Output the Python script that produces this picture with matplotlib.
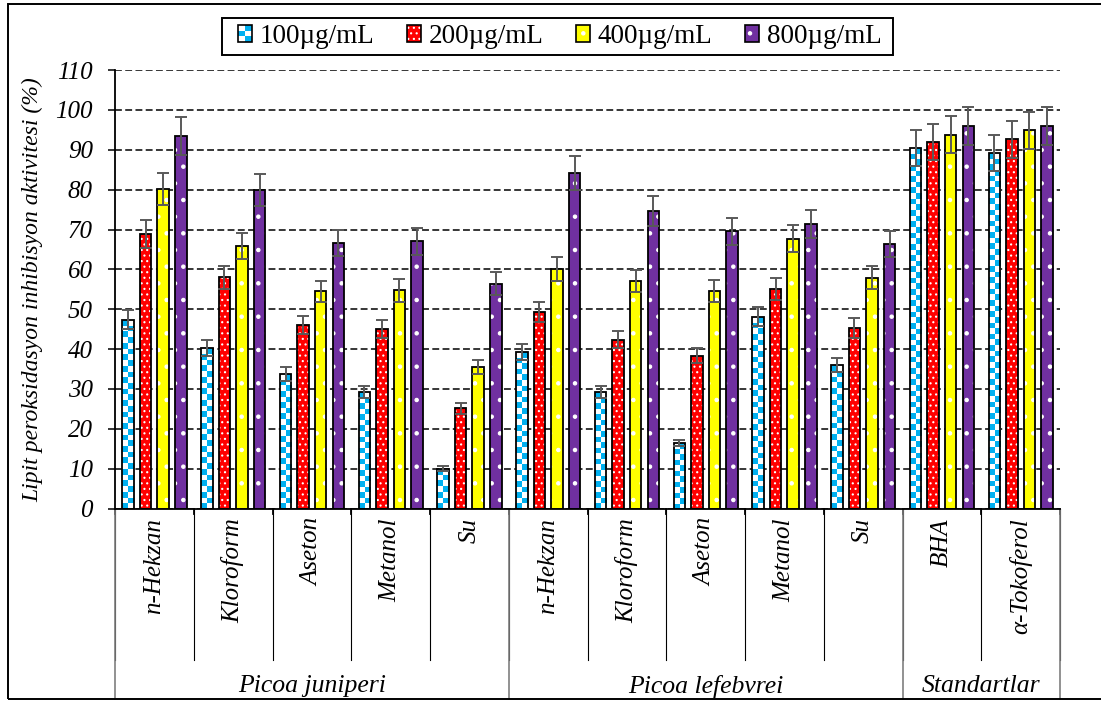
import numpy as np
import matplotlib
matplotlib.use("Agg")
import matplotlib.pyplot as plt
import matplotlib.transforms as mtransforms
from matplotlib.patches import Rectangle, Patch

plt.rcParams['font.family'] = ['Liberation Serif', 'DejaVu Serif']
plt.rcParams['hatch.linewidth'] = 0.8

# Ekstrakt / çözücü kategorileri
categories = ['n-Hekzan', 'Kloroform', 'Aseton', 'Metanol', 'Su',
              'n-Hekzan', 'Kloroform', 'Aseton', 'Metanol', 'Su',
              'BHA', 'α-Tokoferol']
groups = ['Picoa juniperi', 'Picoa lefebvrei', 'Standartlar']
group_sizes = [5, 5, 2]

series_names = ['100µg/mL', '200µg/mL', '400µg/mL', '800µg/mL']

c100 = [47.4, 40.2, 33.7, 29.2, 10.0, 39.2, 29.2, 16.5, 48.1, 36.0, 90.4, 89.3]
e100 = [2.4, 2.0, 1.7, 1.5, 0.6, 2.0, 1.5, 0.8, 2.4, 1.8, 4.5, 4.5]
c200 = [68.9, 58.0, 46.0, 45.0, 25.1, 49.3, 42.4, 38.3, 55.1, 45.3, 92.0, 92.6]
e200 = [3.6, 2.9, 2.3, 2.3, 1.4, 2.5, 2.1, 1.9, 2.8, 2.4, 4.5, 4.6]
c400 = [80.1, 65.9, 54.5, 54.7, 35.5, 60.2, 57.0, 54.5, 67.7, 57.9, 93.8, 94.9]
e400 = [4.0, 3.3, 2.7, 2.8, 1.8, 3.0, 2.8, 2.8, 3.4, 2.9, 4.7, 4.7]
c800 = [93.4, 79.9, 66.6, 67.0, 56.4, 84.2, 74.6, 69.5, 71.3, 66.3, 96.0, 96.0]
e800 = [4.7, 3.9, 3.2, 3.4, 2.9, 4.3, 3.7, 3.4, 3.5, 3.3, 4.8, 4.8]

values = [c100, c200, c400, c800]
errors = [e100, e200, e400, e800]
colors = ['#00B0F0', '#FF0000', '#FFFF00', '#7030A0']
hatches = [None, '...', '.', '.']

FS = 18

fig = plt.figure(figsize=(11.01, 7.02), dpi=100)
ax = fig.add_axes([0.1045, 0.2756, 0.8583, 0.6246])

n = len(categories)
x = np.arange(n) + 0.5
slot = 0.223
width = 0.146
blue = np.array(matplotlib.colors.to_rgb(colors[0]))
white = np.ones(3)

for k in range(4):
    pos = x + (k - 1.5) * slot
    if k == 0:
        bars = ax.bar(pos, values[k], width, color='white', linewidth=0, zorder=2)
        # dama deseni
        for rect in bars:
            h = rect.get_height()
            rows = max(1, int(round(h / 1.42)))
            img = np.zeros((rows, 2, 3))
            for r in range(rows):
                for c in range(2):
                    img[r, c] = blue if (r + c) % 2 == 0 else white
            im = ax.imshow(img, extent=(rect.get_x(), rect.get_x() + rect.get_width(), 0, h),
                           origin='lower', interpolation='nearest', aspect='auto', zorder=2.1)
            im.set_clip_path(rect)
    else:
        ax.bar(pos, values[k], width, color=colors[k], edgecolor='white',
               linewidth=0, hatch=hatches[k], zorder=2)
    ax.bar(pos, values[k], width, fill=False, edgecolor='black', linewidth=1.3, zorder=2.5)
    ax.errorbar(pos, values[k], yerr=errors[k], fmt='none', ecolor='#595959',
                elinewidth=1.4, capsize=4.3, capthick=1.4, zorder=3)

ax.set_xlim(0, n)
ax.set_ylim(0, 110)
ax.set_yticks(np.arange(0, 111, 10))
ax.yaxis.grid(True, color='black', linestyle=(0, (4.5, 2.2)), linewidth=1.1, zorder=0)
ax.set_axisbelow(True)
for lbl in ax.get_yticklabels():
    lbl.set_fontstyle('italic')
ax.tick_params(axis='y', labelsize=FS, length=5, width=1.1, pad=11)
ax.set_xticks([])
ax.spines['top'].set_visible(False)
ax.spines['right'].set_visible(False)
ax.spines['left'].set_linewidth(1.3)
ax.spines['bottom'].set_linewidth(1.3)

ax.set_ylabel('Lipit peroksidasyon inhibisyon aktivitesi (%)', fontsize=17, fontstyle='italic')
ax.yaxis.label.set_va('center')
ax.yaxis.set_label_coords(-0.087, 0.5)

# alt kategori ekseni
trans = mtransforms.blended_transform_factory(ax.transData, ax.transAxes)
for b in range(n + 1):
    ax.plot([b, b], [0, -0.3455], color='black', lw=0.8, transform=trans, clip_on=False)
    ax.plot([b, b], [0, -0.012], color='black', lw=1.3, transform=trans, clip_on=False)
for i, name in enumerate(categories):
    ax.text(i + 0.5, -0.022, name, transform=trans, rotation=90, ha='center', va='top',
            fontsize=FS, fontstyle='italic')

start = 0
bounds = [0]
for g, size in zip(groups, group_sizes):
    ax.text(start + size / 2, -0.405, g, transform=trans, ha='center', va='center',
            fontsize=18.5, fontstyle='italic')
    start += size
    bounds.append(start)
for b in bounds:
    ax.plot([b, b], [0, -0.4344], color='#7f7f7f', lw=1.2, transform=trans, clip_on=False)


class SwatchHandler:
    def __init__(self, color, hatch=None, checker=False):
        self.color = color
        self.hatch = hatch
        self.checker = checker

    def legend_artist(self, legend, orig_handle, fontsize, handlebox):
        x0, y0 = -handlebox.xdescent, -handlebox.ydescent
        w, h = handlebox.width, handlebox.height
        tr = handlebox.get_transform()
        if self.checker:
            handlebox.add_artist(Rectangle((x0, y0), w, h, facecolor='white', lw=0, transform=tr))
            for r in range(3):
                for c in range(2):
                    if (r + c) % 2 == 1:
                        handlebox.add_artist(Rectangle((x0 + c * w / 2, y0 + r * h / 3), w / 2, h / 3,
                                                       facecolor=self.color, lw=0, transform=tr))
        else:
            handlebox.add_artist(Rectangle((x0, y0), w, h, facecolor=self.color, edgecolor='white',
                                           lw=0, hatch=self.hatch, transform=tr))
        outline = Rectangle((x0, y0), w, h, fill=False, edgecolor='black', lw=1.2, transform=tr)
        handlebox.add_artist(outline)
        return outline


handles = [Patch(label=s) for s in series_names]
hmap = {handles[0]: SwatchHandler(colors[0], checker=True)}
for k in range(1, 4):
    hmap[handles[k]] = SwatchHandler(colors[k], hatches[k])

leg = fig.legend(handles=handles, labels=series_names, handler_map=hmap, loc='center',
                 bbox_to_anchor=(560 / 1101, 1 - 36.5 / 702), ncol=4, fontsize=19.5, frameon=False,
                 handlelength=0.5, handleheight=0.6, handletextpad=0.3, columnspacing=1.2,
                 borderpad=0.2)

# lejant kutusu ve dış çerçeve
fig.patches.append(Rectangle((222 / 1101, 1 - 55 / 702), 671 / 1101, 37 / 702, fill=False,
                             edgecolor='black', lw=1.4, transform=fig.transFigure, figure=fig))
fig.patches.append(Rectangle((8 / 1101, 3 / 702), 1.2, 1 - 7 / 702, fill=False, edgecolor='black',
                             lw=1.4, transform=fig.transFigure, figure=fig))

fig.savefig('out.png', dpi=100)
